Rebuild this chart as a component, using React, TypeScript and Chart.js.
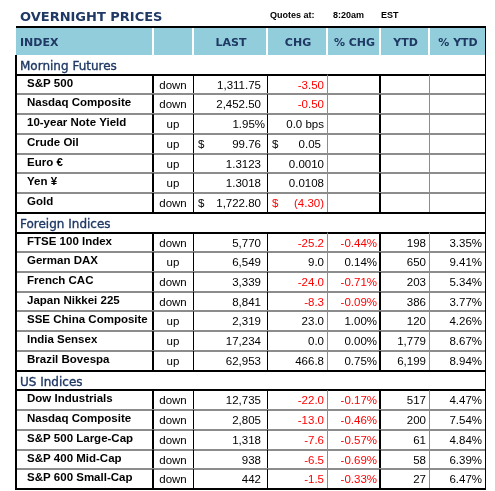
import React, { useEffect, useRef } from 'react';
import { Chart, registerables } from 'chart.js';

Chart.register(...registerables);

// ---------- data ----------
const titleText = 'OVERNIGHT PRICES';
const quotesLabel = 'Quotes at:';
const quotesTime = '8:20am';
const quotesZone = 'EST';
const headerLabels = ['INDEX', '', 'LAST', 'CHG', '% CHG', 'YTD', '% YTD'];
const sectionTitles = ['Morning Futures', 'Foreign Indices', 'US Indices'];

const futuresNames = ['S&P 500', 'Nasdaq Composite', '10-year Note Yield', 'Crude Oil', 'Euro €', 'Yen ¥', 'Gold'];
const futuresDir = ['down', 'down', 'up', 'up', 'up', 'up', 'down'];
const futuresLast = [1311.75, 2452.5, 1.95, 99.76, 1.3123, 1.3018, 1722.8];
const futuresLastFmt = ['n2', 'n2', 'p2', 'usd2', 'n4', 'n4', 'usd2'];
const futuresChg = [-3.5, -0.5, 0.0, 0.05, 0.001, 0.0108, -4.3];
const futuresChgFmt = ['n2', 'n2', 'bps1', 'usd2', 'n4', 'n4', 'usd2'];

const foreignNames = ['FTSE 100 Index', 'German DAX', 'French CAC', 'Japan Nikkei 225', 'SSE China Composite', 'India Sensex', 'Brazil Bovespa'];
const foreignDir = ['down', 'up', 'down', 'down', 'up', 'up', 'up'];
const foreignLast = [5770, 6549, 3339, 8841, 2319, 17234, 62953];
const foreignChg = [-25.2, 9.0, -24.0, -8.3, 23.0, 0.0, 466.8];
const foreignPctChg = [-0.44, 0.14, -0.71, -0.09, 1.0, 0.0, 0.75];
const foreignYtd = [198, 650, 203, 386, 120, 1779, 6199];
const foreignPctYtd = [3.35, 9.41, 5.34, 3.77, 4.26, 8.67, 8.94];

const usNames = ['Dow Industrials', 'Nasdaq Composite', 'S&P 500 Large-Cap', 'S&P 400 Mid-Cap', 'S&P 600 Small-Cap'];
const usDir = ['down', 'down', 'down', 'down', 'down'];
const usLast = [12735, 2805, 1318, 938, 442];
const usChg = [-22.0, -13.0, -7.6, -6.5, -1.5];
const usPctChg = [-0.17, -0.46, -0.57, -0.69, -0.33];
const usYtd = [517, 200, 61, 58, 27];
const usPctYtd = [4.47, 7.54, 4.84, 6.39, 6.47];

// ---------- layout / style ----------
const colWidths = [137, 40, 74, 60, 53, 49, 56];
const HEADER_UNITS = 28 / 19.73;
const NAVY = '#1F3864';
const HEADER_FILL = '#92CDDC';
const RED = '#FF0000';
const GRAY = '#8C8C8C';
const SANS = '"Liberation Sans", Arial, sans-serif';
const VERD = '"DejaVu Sans", Verdana, sans-serif';

const fmtNum = (v: number, d: number) =>
  v.toLocaleString('en-US', { minimumFractionDigits: d, maximumFractionDigits: d });

type Cell = { text: string; color?: string; dollar?: boolean; pad?: number };
type Row =
  | { kind: 'section'; title: string }
  | { kind: 'data'; name: string; dir: string; cells: (Cell | null)[]; last: boolean };

function fmtCell(v: number, f: string, isChg: boolean): Cell {
  const neg = v < 0;
  const color = isChg && neg ? RED : '#000';
  if (f === 'p2') return { text: fmtNum(v, 2) + '%', color, pad: 2 };
  if (f === 'bps1') return { text: fmtNum(v, 1) + ' bps', color, pad: 3 };
  if (f === 'usd2') {
    if (neg) return { text: '(' + fmtNum(-v, 2) + ')', color, dollar: true, pad: 3 };
    return { text: fmtNum(v, 2), color, dollar: true, pad: 6 };
  }
  if (f === 'n4') return { text: fmtNum(v, 4), color, pad: isChg ? 3 : 6 };
  return { text: fmtNum(v, 2), color, pad: isChg ? 3 : 6 };
}

function buildRows(): Row[] {
  const rows: Row[] = [];
  rows.push({ kind: 'section', title: sectionTitles[0] });
  futuresNames.forEach((n, i) => {
    rows.push({
      kind: 'data', name: n, dir: futuresDir[i], last: i === futuresNames.length - 1,
      cells: [fmtCell(futuresLast[i], futuresLastFmt[i], false), fmtCell(futuresChg[i], futuresChgFmt[i], true), null, null, null],
    });
  });
  const idx = (title: string, names: string[], dir: string[], last: number[], chg: number[], pc: number[], ytd: number[], py: number[]) => {
    rows.push({ kind: 'section', title });
    names.forEach((n, i) => {
      rows.push({
        kind: 'data', name: n, dir: dir[i], last: i === names.length - 1,
        cells: [
          { text: fmtNum(last[i], 0), color: '#000', pad: 6 },
          { text: fmtNum(chg[i], 1), color: chg[i] < 0 ? RED : '#000', pad: 3 },
          { text: fmtNum(pc[i], 2) + '%', color: pc[i] < 0 ? RED : '#000', pad: 3 },
          { text: fmtNum(ytd[i], 0), color: '#000', pad: 3 },
          { text: fmtNum(py[i], 2) + '%', color: '#000', pad: 3 },
        ],
      });
    });
  };
  idx(sectionTitles[1], foreignNames, foreignDir, foreignLast, foreignChg, foreignPctChg, foreignYtd, foreignPctYtd);
  idx(sectionTitles[2], usNames, usDir, usLast, usChg, usPctChg, usYtd, usPctYtd);
  return rows;
}

const ROWS = buildRows();
const colEdges = colWidths.reduce((a: number[], w) => { a.push(a[a.length - 1] + w); return a; }, [0]);

const tablePlugin = {
  id: 'overnightTable',
  afterDraw(chart: any) {
    const ctx: CanvasRenderingContext2D = chart.ctx;
    const xs = chart.scales.x;
    const ys = chart.scales.y;
    const X = (v: number) => xs.getPixelForValue(v);
    const Y = (v: number) => ys.getPixelForValue(v);
    const L = X(colEdges[0]);
    const R = X(colEdges[colEdges.length - 1]);

    const hline = (y: number, x1: number, x2: number, color: string, w: number) => {
      ctx.save(); ctx.strokeStyle = color; ctx.lineWidth = w;
      const yy = w % 2 === 1 ? Math.round(y) + 0.5 : Math.round(y);
      ctx.beginPath(); ctx.moveTo(x1, yy); ctx.lineTo(x2, yy); ctx.stroke(); ctx.restore();
    };
    const vline = (x: number, y1: number, y2: number, color: string, w: number) => {
      ctx.save(); ctx.strokeStyle = color; ctx.lineWidth = w;
      const xx = w % 2 === 1 ? Math.round(x) + 0.5 : Math.round(x);
      ctx.beginPath(); ctx.moveTo(xx, y1); ctx.lineTo(xx, y2); ctx.stroke(); ctx.restore();
    };

    const top = Y(0);
    const headBottom = Y(HEADER_UNITS);

    // title line
    ctx.save();
    ctx.fillStyle = NAVY;
    ctx.font = `bold 13px ${VERD}`;
    ctx.textBaseline = 'alphabetic';
    ctx.textAlign = 'left';
    ctx.fillText(titleText, L + 4, top - 6);
    ctx.fillStyle = '#000';
    ctx.font = `bold 9px ${SANS}`;
    ctx.fillText(quotesLabel, X(colEdges[3]) + 3, top - 9);
    ctx.fillText(quotesTime, X(colEdges[3]) + 66, top - 9);
    ctx.fillText(quotesZone, X(colEdges[3]) + 114, top - 9);
    ctx.restore();

    // header
    ctx.fillStyle = HEADER_FILL;
    ctx.fillRect(L, top, R - L, headBottom - top);
    ctx.save();
    ctx.fillStyle = NAVY;
    ctx.font = `bold 11px ${VERD}`;
    ctx.textBaseline = 'alphabetic';
    headerLabels.forEach((h, i) => {
      if (!h) return;
      const x1 = X(colEdges[i]), x2 = X(colEdges[i + 1]);
      if (i === 0) { ctx.textAlign = 'left'; ctx.fillText(h, x1 + 4, top + 19); }
      else { ctx.textAlign = 'center'; ctx.fillText(h, (x1 + x2) / 2 + 1, top + 19); }
    });
    ctx.restore();
    for (let i = 1; i < colEdges.length - 1; i++) vline(X(colEdges[i]), top + 1, headBottom, '#FFFFFF', 2);
    hline(top, L, R + 1, '#000', 2);

    // rows
    ROWS.forEach((row, r) => {
      const y1 = Y(HEADER_UNITS + r);
      const y2 = Y(HEADER_UNITS + r + 1);
      if (row.kind === 'section') {
        ctx.save();
        ctx.fillStyle = NAVY;
        ctx.font = `12px ${VERD}`;
        ctx.textAlign = 'left';
        ctx.textBaseline = 'alphabetic';
        ctx.fillText(row.title, L + 4, y1 + 15);
        ctx.strokeStyle = NAVY; ctx.lineWidth = 0.35;
        ctx.strokeText(row.title, L + 4, y1 + 15);
        ctx.restore();
        return;
      }
      ctx.save();
      ctx.textBaseline = 'alphabetic';
      ctx.fillStyle = '#000';
      ctx.font = `bold 11.5px ${SANS}`;
      ctx.textAlign = 'left';
      ctx.fillText(row.name, L + 11, y1 + 12);
      ctx.font = `11.5px ${SANS}`;
      ctx.textAlign = 'center';
      ctx.fillText(row.dir, (X(colEdges[1]) + X(colEdges[2])) / 2, y1 + 14);
      row.cells.forEach((c, j) => {
        if (!c) return;
        const x1 = X(colEdges[j + 2]), x2 = X(colEdges[j + 3]);
        ctx.fillStyle = c.color || '#000';
        ctx.textAlign = 'right';
        ctx.fillText(c.text, x2 - (c.pad ?? 3), y1 + 14);
        if (c.dollar) { ctx.textAlign = 'left'; ctx.fillText('$', x1 + 5, y1 + 14); }
      });
      ctx.restore();
    });

    // grid lines
    ROWS.forEach((row, r) => {
      const y1 = Y(HEADER_UNITS + r);
      const y2 = Y(HEADER_UNITS + r + 1);
      if (row.kind === 'section') {
        hline(y2, L, R, '#000', 2);
        return;
      }
      vline(X(colEdges[1]), y1, y2, '#000', 2);
      vline(X(colEdges[2]), y1, y2, '#000', 1);
      vline(X(colEdges[3]), y1, y2, '#000', 1);
      vline(X(colEdges[4]), y1, y2, GRAY, 1);
      vline(X(colEdges[5]), y1, y2, '#000', 2);
      vline(X(colEdges[6]), y1, y2, GRAY, 1);
      if (row.last) hline(y2, L, R, '#000', 2);
      else hline(y2, L, R, GRAY, 2);
    });
    const bottom = Y(HEADER_UNITS + ROWS.length);
    vline(L, headBottom, bottom + 1, '#000', 2);
    vline(R, top, bottom + 1, '#000', 1);
  },
};

export default function App() {
  const ref = useRef<HTMLCanvasElement>(null);
  useEffect(() => {
    if (!ref.current) return;
    const chart = new Chart(ref.current, {
      type: 'scatter',
      data: { datasets: [] },
      options: {
        responsive: false,
        animation: false,
        maintainAspectRatio: false,
        layout: { padding: { left: 16, right: 10, top: 27, bottom: 2 } },
        plugins: { legend: { display: false }, tooltip: { enabled: false }, title: { display: false } },
        scales: {
          x: { type: 'linear', min: 0, max: colEdges[colEdges.length - 1], display: false },
          y: { type: 'linear', min: 0, max: HEADER_UNITS + ROWS.length, reverse: true, display: false },
        },
      },
      plugins: [tablePlugin],
    });
    return () => chart.destroy();
  }, []);
  return (
    <div style={{ position: 'fixed', left: 0, top: 0, width: 495, height: 491, background: '#fff' }}>
      <canvas ref={ref} width={495} height={491} style={{ display: 'block', width: 495, height: 491 }} />
    </div>
  );
}
